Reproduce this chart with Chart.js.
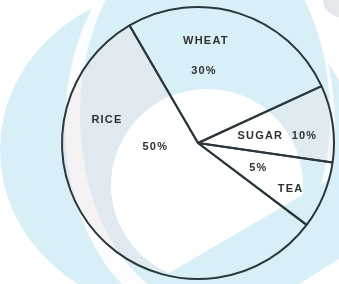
<!DOCTYPE html>
<html>
<head>
<meta charset="utf-8">
<script src="https://cdn.jsdelivr.net/npm/chart.js@4"></script>
<style>
  body { margin: 0; background: #fff; }
  canvas { display: block; }
</style>
</head>
<body>
<canvas id="pie" width="339" height="284"></canvas>
<script>
// Data (slices go clockwise from the wheat/rice line)
const categories = ['WHEAT', 'SUGAR', 'TEA', 'RICE'];
// slice sweeps as drawn, in degrees
const shares = [95.5, 32.9, 28.8, 202.8];
// percentages as printed on the chart
const percentLabels = ['30%', '10%', '5%', '50%'];
const startAngle = -30.2;

// where each piece of text sits: angle clockwise from 12 o'clock, fraction of radius
const textItems = [
    { text: categories[0], angle: 4.4, r: 0.754 },
    { text: percentLabels[0], angle: 4.7, r: 0.534 },
    { text: categories[1] + '  ' + percentLabels[1], angle: 85, r: 0.586 },
    { text: percentLabels[2], angle: 112.3, r: 0.48 },
    { text: categories[2], angle: 116.3, r: 0.76 },
    { text: categories[3], angle: 284, r: 0.69 },
    { text: percentLabels[3], angle: 264.7, r: 0.315 }
];

// faint shading of some slices, seen under the watermark
const sliceTint = ['', 'rgba(235,225,225,0.3)', '', 'rgba(235,225,225,0.4)'];

// faint watermark behind the pie
const watermark = {
    id: 'watermark',
    beforeDraw(chart) {
        const ctx = chart.ctx;
        ctx.save();
        ctx.fillStyle = '#ffffff';
        ctx.fillRect(0, 0, chart.width, chart.height);

        ctx.fillStyle = '#d9eff8';
        ctx.beginPath();
        ctx.ellipse(178, 150, 178, 162, 0, 0, Math.PI * 2);
        ctx.fill();

        // white crescent on the left
        ctx.fillStyle = '#fbfdfe';
        ctx.beginPath();
        ctx.ellipse(200, 125, 135, 195, 0, 0, Math.PI * 2);
        ctx.fill();

        ctx.fillStyle = '#d9eff8';
        ctx.beginPath();
        ctx.ellipse(205, 115, 125, 190, 0, 0, Math.PI * 2);
        ctx.fill();

        // slice shading
        chart.getDatasetMeta(0).data.forEach((arc, i) => {
            if (!sliceTint[i]) return;
            ctx.fillStyle = sliceTint[i];
            ctx.beginPath();
            ctx.moveTo(arc.x, arc.y);
            ctx.arc(arc.x, arc.y, arc.outerRadius, arc.startAngle, arc.endAngle);
            ctx.closePath();
            ctx.fill();
        });

        ctx.fillStyle = '#e4e8ec';
        ctx.beginPath();
        ctx.ellipse(345, 0, 22, 18, 0, 0, Math.PI * 2);
        ctx.fill();

        ctx.fillStyle = '#ffffff';
        ctx.beginPath();
        ctx.arc(207, 185, 96, 0, Math.PI * 2);
        ctx.fill();

        // blue band across the bottom right
        ctx.fillStyle = '#d9eff8';
        ctx.beginPath();
        ctx.moveTo(140, 290);
        ctx.lineTo(345, 170);
        ctx.lineTo(345, 255);
        ctx.lineTo(290, 290);
        ctx.closePath();
        ctx.fill();
        ctx.restore();
    }
};

const sliceText = {
    id: 'sliceText',
    afterDatasetsDraw(chart) {
        const arc = chart.getDatasetMeta(0).data[0];
        if (!arc) return;
        const ctx = chart.ctx;
        const R = arc.outerRadius;
        ctx.save();
        ctx.font = 'bold 11px "Liberation Sans", Arial, sans-serif';
        ctx.letterSpacing = '1.2px';
        ctx.fillStyle = '#2f3030';
        ctx.textAlign = 'center';
        ctx.textBaseline = 'middle';
        textItems.forEach(item => {
            const a = item.angle * Math.PI / 180;
            const x = arc.x + R * item.r * Math.sin(a);
            const y = arc.y - R * item.r * Math.cos(a);
            ctx.fillText(item.text, x, y);
        });
        ctx.restore();
    }
};

new Chart(document.getElementById('pie'), {
    type: 'pie',
    data: {
        labels: categories,
        datasets: [{
            data: shares,
            backgroundColor: 'rgba(0,0,0,0)',
            borderColor: '#2a373c',
            borderWidth: 2
        }]
    },
    options: {
        responsive: false,
        animation: false,
        rotation: startAngle,
        layout: { padding: { left: 61, right: 4, top: 6, bottom: 4 } },
        plugins: {
            legend: { display: false },
            tooltip: { enabled: false }
        }
    },
    plugins: [watermark, sliceText]
});
</script>
</body>
</html>
